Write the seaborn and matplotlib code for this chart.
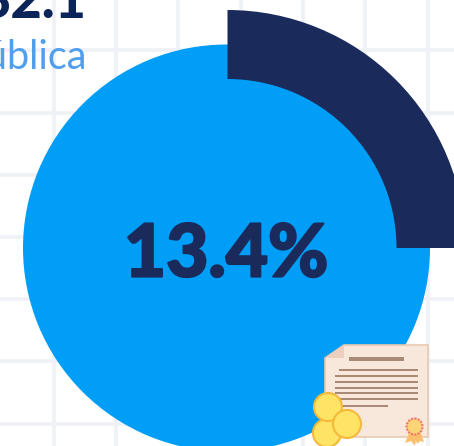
import matplotlib
matplotlib.use("Agg")
import matplotlib.pyplot as plt
import matplotlib.patheffects as pe
from matplotlib.patches import Circle, Polygon, Rectangle
import seaborn as sns

arc_shares = [25, 75]
main_label = "13.4%"
top_value = "32.1"
top_label = "Pública"
grid_x = [54, 116, 178, 241, 303, 365, 428]
grid_y = [50, 113, 175, 237, 299, 361, 424]

NAVY = "#1a2b5b"
BLUE = "#009ef7"

sns.set_theme(style="whitegrid", rc={"grid.color": "#eef1f6", "grid.linewidth": 2.6})
plt.rcParams["font.family"] = ["Lato", "DejaVu Sans"]

fig = plt.figure(figsize=(4.54, 4.46), dpi=100)
ax = fig.add_axes([0, 0, 1, 1])

# y is inverted so everything reads in picture pixels
ax.pie([1], colors=[BLUE], radius=203.5, center=(226.5, 248), frame=True,
       wedgeprops={"linewidth": 0})
ax.pie(arc_shares, colors=[NAVY, "none"], radius=238, center=(227.5, 248), frame=True,
       startangle=-90, wedgeprops={"width": 69, "linewidth": 0})

ax.set_xlim(0, 454)
ax.set_ylim(446, 0)
ax.set_xticks(grid_x)
ax.set_yticks(grid_y)
ax.tick_params(labelbottom=False, labelleft=False, length=0)
ax.set_axisbelow(True)
sns.despine(ax=ax, left=True, bottom=True)

ax.text(86, 18, top_value, ha="right", va="baseline", fontsize=39, fontweight="black", color="#0b2559")
ax.text(87, 69, top_label, ha="right", va="baseline", fontsize=28.5, color="#4f9fee")
big = ax.text(226, 276.5, main_label, ha="center", va="baseline", fontsize=52.5, fontweight="black", color=NAVY)
big.set_path_effects([pe.withStroke(linewidth=1.6, foreground=NAVY)])

# certificate icon
paper = "#f8e8dc"
edge = "#e8c9b0"
ink = "#a88a76"
ax.add_patch(Polygon([(344, 345), (428, 345), (428, 437), (325, 437), (325, 358)],
                     facecolor=paper, edgecolor=edge, linewidth=1.2, zorder=4))
ax.add_patch(Polygon([(344, 345), (344, 358), (325, 358)], facecolor="#eccfbc", edgecolor="none", zorder=4))
ax.add_patch(Rectangle((349, 357), 55, 4, facecolor=ink, edgecolor="none", zorder=5))
for x0, x1, y in [(339, 418, 370), (335, 418, 376), (335, 418, 382), (335, 418, 388),
                  (335, 418, 393), (339, 418, 399), (341, 388, 406)]:
    ax.add_patch(Rectangle((x0, y - 1), x1 - x0, 2, facecolor=ink, edgecolor="none", zorder=5))

ax.add_patch(Polygon([(410, 431), (405, 443), (411, 441), (415, 446), (417, 433)], facecolor="#fbbf6e", edgecolor="none", zorder=5))
ax.add_patch(Polygon([(414, 433), (417, 444), (420, 441), (424, 442), (420, 431)], facecolor="#fbbf6e", edgecolor="none", zorder=5))
ax.add_patch(Circle((414.5, 426.5), 8, facecolor="#fdd576", edgecolor="#f0736a", linewidth=1.5, linestyle=(0, (1, 0.6)), zorder=6))

for cx, cy in [(327, 433), (328, 407), (347, 424)]:
    ax.add_patch(Circle((cx, cy), 14, facecolor="#ffe365", edgecolor="#f5b93a", linewidth=1.5, zorder=7))

fig.savefig("out.png", dpi=100)
